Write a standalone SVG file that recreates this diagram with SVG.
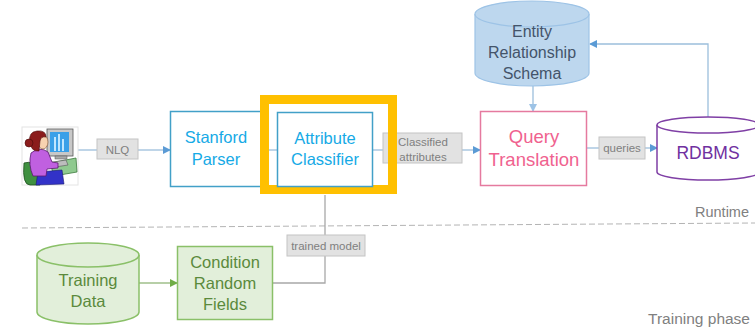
<svg xmlns="http://www.w3.org/2000/svg" width="755" height="330" viewBox="0 0 755 330">
  <style>
    text { font-family: "Liberation Sans", Arial, sans-serif; text-anchor: middle; }
    .tag rect { fill: #e2e2e2; stroke: #c4c4c4; stroke-width: 1; }
    .tag text { fill: #7f7f7f; font-size: 11.5px; }
    .blue { fill: #fff; stroke: #42a0c8; stroke-width: 1.5; }
    .bluetxt { fill: #16aae6; font-size: 16.5px; }
    .conn { fill: none; stroke: #9cbfdc; stroke-width: 1.3; }
    .gconn { fill: none; stroke: #9fbf8a; stroke-width: 1.3; }
    .grey { fill: none; stroke: #a8a8a8; stroke-width: 1.3; }
    .green { fill: #e2efda; stroke: #8ac068; stroke-width: 1.5; }
    .greentxt { fill: #5b8a3c; font-size: 16.5px; }
    .phase { fill: #808080; text-anchor: end; }
  </style>
  <defs>
    <marker id="arrB" markerWidth="8" markerHeight="8" refX="7" refY="4" orient="auto" markerUnits="userSpaceOnUse">
      <path d="M0,0 L8,4 L0,8 Z" fill="#5b9bd5"/>
    </marker>
    <marker id="arrL" markerWidth="8" markerHeight="8" refX="7" refY="4" orient="auto" markerUnits="userSpaceOnUse">
      <path d="M0,0 L8,4 L0,8 Z" fill="#9dc3e6"/>
    </marker>
    <marker id="arrG" markerWidth="8" markerHeight="8" refX="7" refY="4" orient="auto" markerUnits="userSpaceOnUse">
      <path d="M0,0 L8,4 L0,8 Z" fill="#70ad47"/>
    </marker>
  </defs>

  <!-- phase separator -->
  <line x1="22" y1="228" x2="755" y2="223" stroke="#b4b4b4" stroke-width="1" stroke-dasharray="6,3"/>
  <text class="phase" x="749" y="217" font-size="14.5px">Runtime</text>
  <text class="phase" x="750" y="324" font-size="15.5px">Training phase</text>

  <!-- connectors -->
  <g id="connectors">
    <path class="conn" d="M78,150 H97"/>
    <path class="conn" d="M138,150 H170" marker-end="url(#arrB)"/>
    <path class="conn" d="M262,150 H277"/>
    <path class="conn" d="M373,150 H383"/>
    <path class="conn" d="M462,150 H480" marker-end="url(#arrB)"/>
    <path class="conn" d="M587,148 H599"/>
    <path class="conn" d="M645,148 H657" marker-end="url(#arrB)"/>
    <path class="conn" d="M708,117 V44 H590" marker-end="url(#arrB)"/>
    <path class="conn" d="M533,86 V111" marker-end="url(#arrL)"/>
    <path class="grey" d="M325,195 V283 H273"/>
    <path class="gconn" d="M139,283 H177" marker-end="url(#arrG)"/>
  </g>

  <!-- user at workstation -->
  <g id="user">
    <rect x="22" y="127" width="56" height="58" fill="#fff" stroke="#e4e4e4" stroke-width="1"/>
    <!-- desk -->
    <polygon points="50,163 76,158 77,172 54,176" fill="#8fc98f" stroke="#3d7a3d" stroke-width="0.8"/>
    <!-- monitor -->
    <rect x="47" y="129" width="26" height="27" fill="#c8c8c8" stroke="#555" stroke-width="0.8"/>
    <rect x="50" y="132" width="19" height="20" fill="#3aa0e8"/>
    <rect x="54" y="137" width="2" height="14" fill="#bfe6ff"/>
    <rect x="58" y="134" width="2" height="17" fill="#bfe6ff"/>
    <rect x="62" y="139" width="2" height="12" fill="#bfe6ff"/>
    <rect x="55" y="156" width="12" height="3" fill="#aaa" stroke="#555" stroke-width="0.5"/>
    <!-- keyboard -->
    <polygon points="47,163 66,160 68,165 49,168" fill="#bdbdbd" stroke="#555" stroke-width="0.6"/>
    <!-- chair -->
    <path d="M24,163 Q22,185 30,185 L40,185 L40,170 Q34,160 24,163 Z" fill="#3f9040" stroke="#1e4e1e" stroke-width="0.8"/>
    <!-- skirt -->
    <path d="M38,172 L62,170 L64,184 L36,185 Z" fill="#3232c8" stroke="#1a1a70" stroke-width="0.6"/>
    <!-- body -->
    <path d="M31,153 Q40,146 48,152 L52,162 L58,163 L58,168 L47,169 L46,176 L33,176 Q28,165 31,153 Z" fill="#c060e0" stroke="#5a1a70" stroke-width="0.8"/>
    <!-- face and hair -->
    <ellipse cx="43" cy="142" rx="5" ry="7" fill="#f8d2b0" stroke="#7a4a2a" stroke-width="0.6"/>
    <path d="M30,142 Q28,132 37,131 Q46,130 46,137 Q41,136 40,141 L39,151 Q31,152 30,142 Z" fill="#8b1c1c" stroke="#4a0a0a" stroke-width="0.6"/>
    <circle cx="29" cy="143" r="4" fill="#8b1c1c" stroke="#4a0a0a" stroke-width="0.6"/>
  </g>

  <!-- labels on connectors -->
  <g id="lbl-nlq" class="tag">
    <rect x="97" y="139" width="41" height="20"/>
    <text x="117.5" y="154">NLQ</text>
  </g>
  <g id="lbl-classified" class="tag">
    <rect x="383" y="133" width="79" height="30"/>
    <text x="423" y="146">Classified</text>
    <text x="423" y="161">attributes</text>
  </g>
  <g id="lbl-queries" class="tag">
    <rect x="599" y="137" width="46" height="22"/>
    <text x="622" y="152">queries</text>
  </g>

  <g id="stanford-parser">
    <rect class="blue" x="170.5" y="111.5" width="91" height="75"/>
    <text class="bluetxt" x="216" y="143">Stanford</text>
    <text class="bluetxt" x="216" y="165">Parser</text>
  </g>

  <g id="attribute-classifier">
    <rect x="264.5" y="99.5" width="128" height="90" fill="none" stroke="#ffc000" stroke-width="9"/>
    <rect class="blue" x="277.5" y="112.5" width="95" height="74"/>
    <text class="bluetxt" x="325" y="144">Attribute</text>
    <text class="bluetxt" x="325" y="165">Classifier</text>
  </g>

  <g id="query-translation">
    <rect x="480.5" y="111.5" width="106" height="74" fill="#fff" stroke="#e57a9f" stroke-width="1.5"/>
    <text x="534" y="143" fill="#f0628f" font-size="18.5px">Query</text>
    <text x="534" y="166" fill="#f0628f" font-size="18.5px">Translation</text>
  </g>

  <g id="er-schema">
    <path d="M475,14 V73 A57,13 0 0 0 589,73 V14" fill="#bdd7ee" stroke="#9dc3e6" stroke-width="1.2"/>
    <ellipse cx="532" cy="14" rx="57" ry="13" fill="#bdd7ee" stroke="#9dc3e6" stroke-width="1.2"/>
    <text x="532" y="37" fill="#44546a" font-size="16px">Entity</text>
    <text x="532" y="58" fill="#44546a" font-size="16px">Relationship</text>
    <text x="532" y="79" fill="#44546a" font-size="16px">Schema</text>
  </g>

  <g id="rdbms">
    <path d="M657,125 V172 A51,8 0 0 0 759,172 V125" fill="#fff" stroke="#7f3fa5" stroke-width="1.5"/>
    <ellipse cx="708" cy="125" rx="51" ry="8" fill="#fff" stroke="#7f3fa5" stroke-width="1.5"/>
    <text x="708" y="159" fill="#7030a0" font-size="17.5px">RDBMS</text>
  </g>

  <g id="crf">
    <rect class="green" x="177.5" y="246.5" width="95" height="73"/>
    <text class="greentxt" x="225" y="268">Condition</text>
    <text class="greentxt" x="225" y="289">Random</text>
    <text class="greentxt" x="225" y="310">Fields</text>
  </g>

  <g id="training-data">
    <path d="M37,255 V312 A51,12 0 0 0 139,312 V255" fill="#e2efda" stroke="#8ac068" stroke-width="1.5"/>
    <ellipse cx="88" cy="255" rx="51" ry="12" fill="#e2efda" stroke="#8ac068" stroke-width="1.5"/>
    <text class="greentxt" x="88" y="286">Training</text>
    <text class="greentxt" x="88" y="307">Data</text>
  </g>

  <g id="lbl-trained" class="tag">
    <rect x="287" y="235" width="78" height="21"/>
    <text x="326" y="250" font-size="12px">trained model</text>
  </g>
</svg>
